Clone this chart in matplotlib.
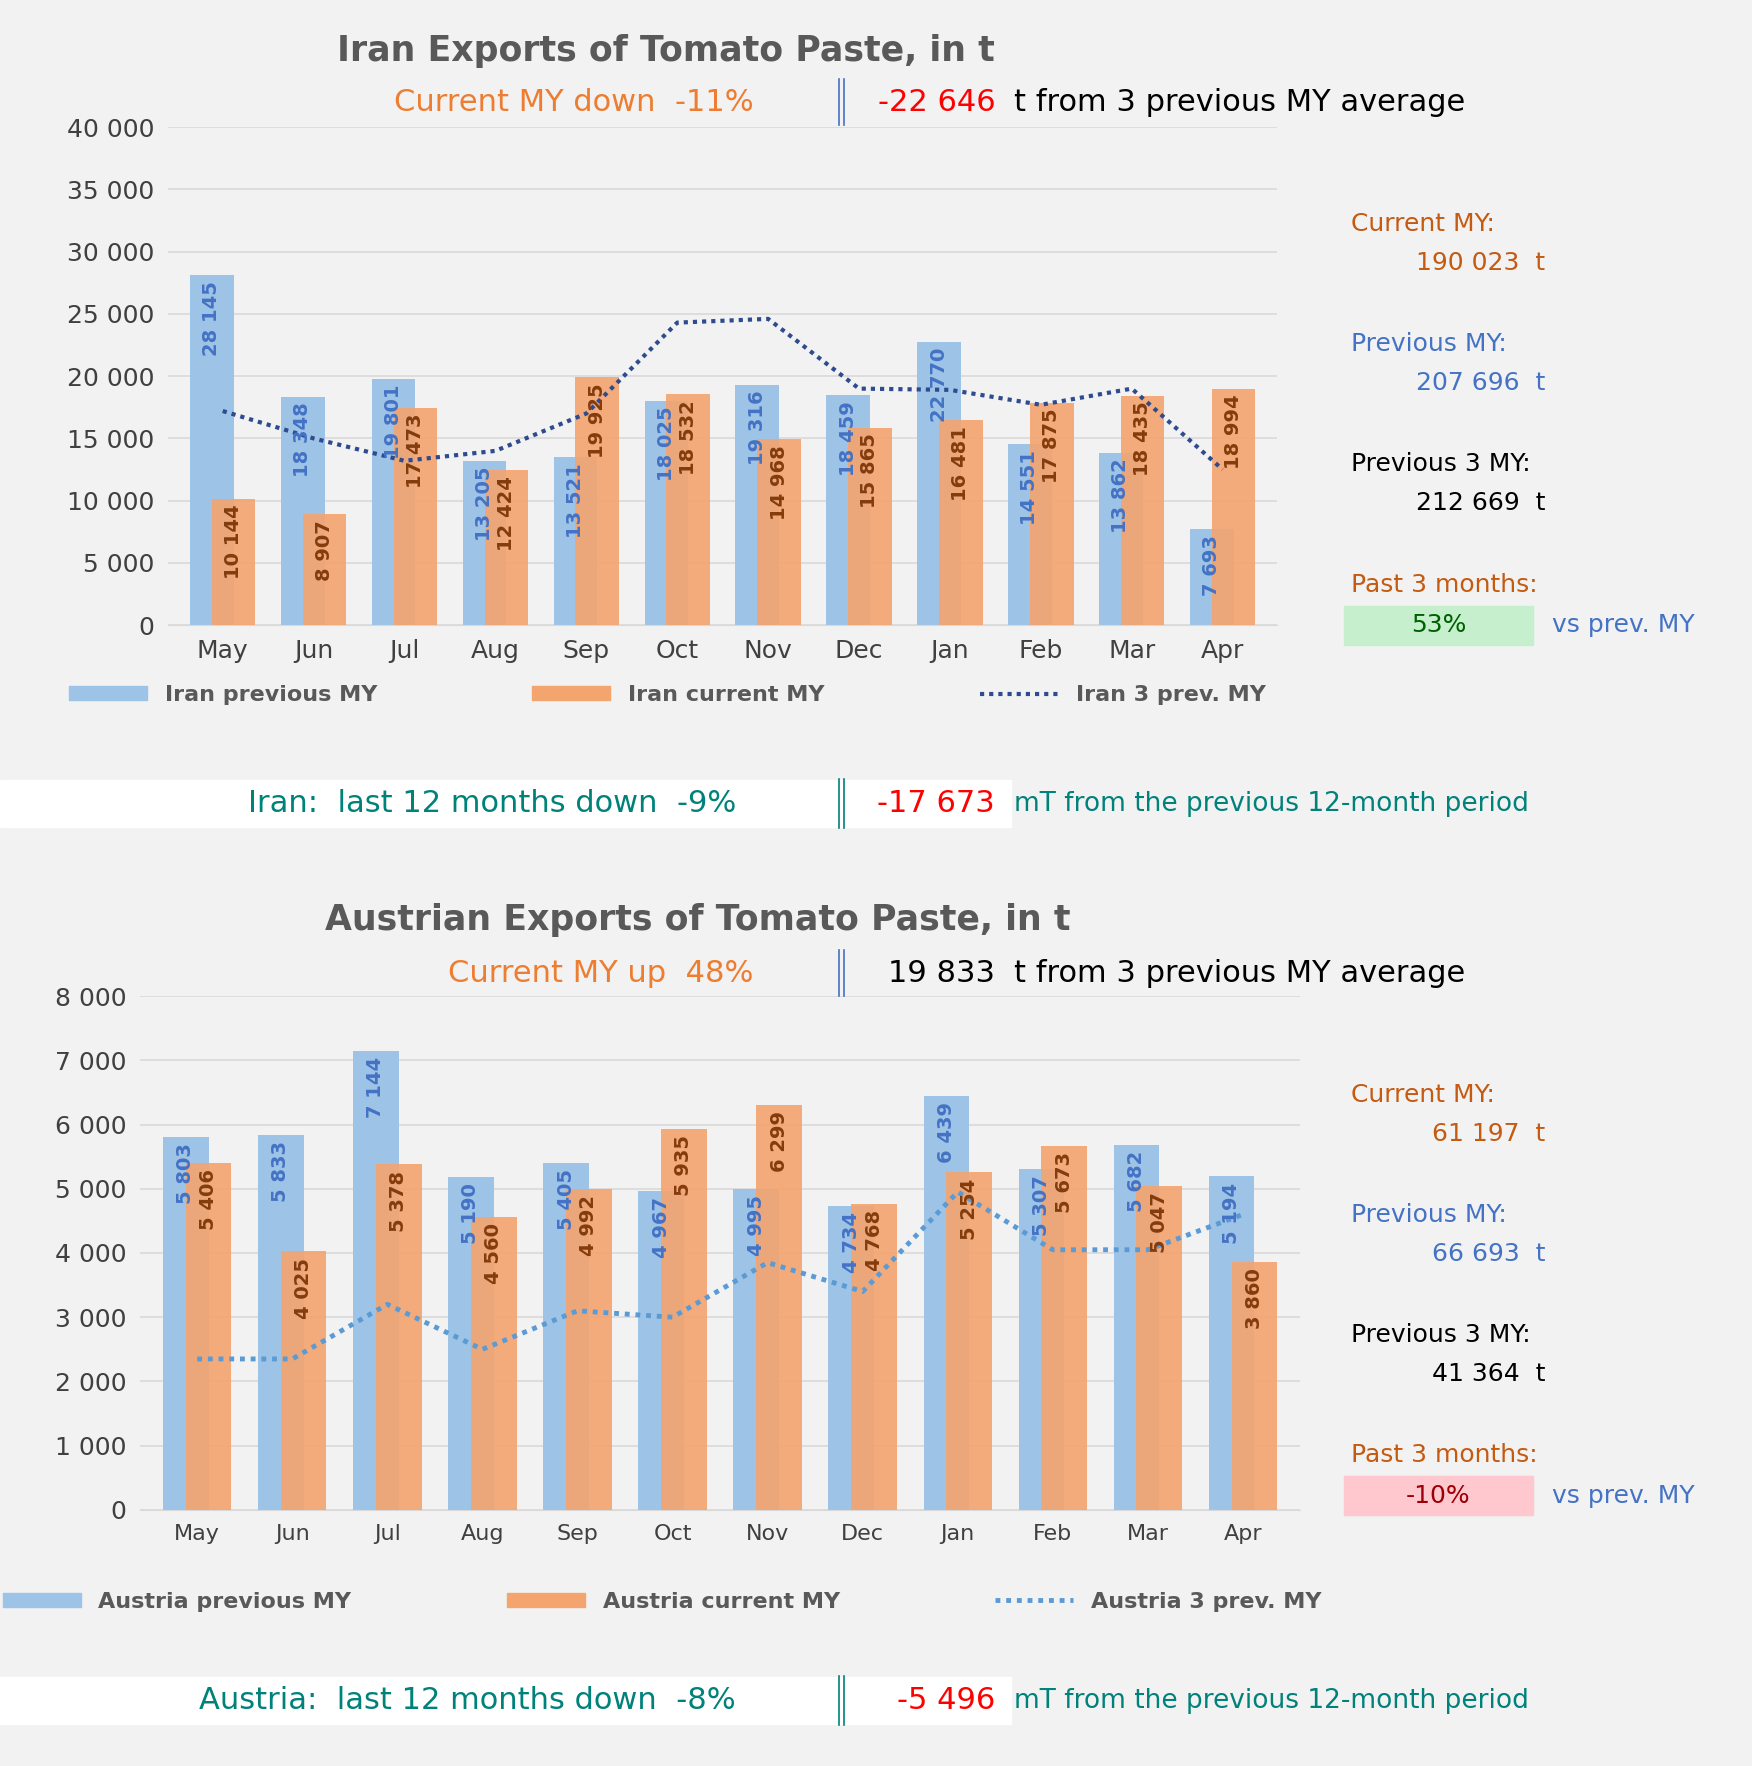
import matplotlib.pyplot as plt
import numpy as np
from matplotlib.patches import Rectangle

months = ["May", "Jun", "Jul", "Aug", "Sep", "Oct", "Nov", "Dec", "Jan", "Feb", "Mar", "Apr"]

iran_prev = [28145, 18348, 19801, 13205, 13521, 18025, 19316, 18459, 22770, 14551, 13862, 7693]
iran_cur = [10144, 8907, 17473, 12424, 19925, 18532, 14968, 15865, 16481, 17875, 18435, 18994]
iran_avg3 = [17200, 15000, 13200, 14000, 17000, 24300, 24600, 19000, 18900, 17700, 19000, 12500]

aut_prev = [5803, 5833, 7144, 5190, 5405, 4967, 4995, 4734, 6439, 5307, 5682, 5194]
aut_cur = [5406, 4025, 5378, 4560, 4992, 5935, 6299, 4768, 5254, 5673, 5047, 3860]
aut_avg3 = [2350, 2350, 3200, 2500, 3100, 3000, 3850, 3400, 4950, 4050, 4050, 4600]

BG = "#f2f2f2"
BLUE = "#9dc3e6"
ORANGE = "#f4a46e"
BLUE_TXT = "#4472c4"
BROWN_TXT = "#843c0c"
ORANGE_TXT = "#c55a11"
TEAL = "#00827a"


def fmt(v):
    return f"{v:,}".replace(",", " ")


fig = plt.figure(figsize=(17.52, 17.66), dpi=100, facecolor=BG)


def draw_chart(rect, prev, cur, avg, ymax, ystep, line_col, lw, names, tickfont):
    ax = fig.add_axes(rect, facecolor=BG)
    x = np.arange(len(months))
    w = 0.48
    ax.bar(x - 0.12, prev, w, color=BLUE, zorder=2)
    ax.bar(x + 0.12, cur, w, color=ORANGE, alpha=0.9, zorder=3)
    ax.plot(x, avg, color=line_col, lw=lw, ls=(0, (1, 1.2)), zorder=4)
    pad = ymax * 0.012
    for i in range(len(months)):
        ax.text(x[i] - 0.12, prev[i] - pad, fmt(prev[i]), rotation=90, ha="center", va="top",
                color=BLUE_TXT, fontsize=14, fontweight="bold", zorder=5)
        ax.text(x[i] + 0.12, cur[i] - pad, fmt(cur[i]), rotation=90, ha="center", va="top",
                color=BROWN_TXT, fontsize=14, fontweight="bold", zorder=5)
    ax.set_ylim(0, ymax)
    ax.set_xlim(-0.6, len(months) - 0.4)
    ticks = np.arange(0, ymax + 1, ystep)
    ax.set_yticks(ticks)
    ax.set_yticklabels([fmt(int(v)) for v in ticks], fontsize=18, color="#404040")
    ax.set_xticks(x)
    ax.set_xticklabels(months, fontsize=tickfont, color="#404040")
    ax.grid(axis="y", color="#d9d9d9", lw=1.2, zorder=0)
    for s in ax.spines.values():
        s.set_visible(False)
    ax.spines["bottom"].set_visible(True)
    ax.spines["bottom"].set_color("#d9d9d9")
    ax.tick_params(length=0, pad=10)
    h1 = Rectangle((0, 0), 1, 1, color=BLUE)
    h2 = Rectangle((0, 0), 1, 1, color=ORANGE)
    h3, = ax.plot([], [], color=line_col, lw=lw, ls=(0, (1, 1.2)))
    leg = ax.legend([h1, h2, h3], names, loc="upper center",
                    bbox_to_anchor=(0.45, -0.08 if tickfont > 16 else -0.12),
                    ncol=3, frameon=False, columnspacing=7, handlelength=3.5, handleheight=0.6,
                    prop={"size": 16, "weight": "bold"})
    for t in leg.get_texts():
        t.set_color("#595959")
    return ax


draw_chart([0.096, 0.646, 0.633, 0.282], iran_prev, iran_cur, iran_avg3, 40000, 5000,
           "#2f4b8f", 3, ["Iran previous MY", "Iran current MY", "Iran 3 prev. MY"], 18)
draw_chart([0.080, 0.145, 0.662, 0.291], aut_prev, aut_cur, aut_avg3, 8000, 1000,
           "#5b9bd5", 3.5, ["Austria previous MY", "Austria current MY", "Austria 3 prev. MY"], 16)


def header(y_title, title, y_sub, sub, num, num_col, title_x):
    fig.text(title_x, y_title, title, fontsize=25, fontweight="bold", color="#595959", ha="center", va="center")
    fig.text(0.43, y_sub, sub, fontsize=22, color="#ed7d31", ha="right", va="center")
    fig.add_artist(plt.Line2D([0.479, 0.479], [y_sub - 0.013, y_sub + 0.013], color=BLUE_TXT, lw=1.2))
    fig.add_artist(plt.Line2D([0.482, 0.482], [y_sub - 0.013, y_sub + 0.013], color=BLUE_TXT, lw=1.2))
    fig.text(0.568, y_sub, num, fontsize=22, color=num_col, ha="right", va="center")
    fig.text(0.579, y_sub, "t from 3 previous MY average", fontsize=22, color="black", ha="left", va="center")


header(0.971, "Iran Exports of Tomato Paste, in t", 0.942, "Current MY down  -11%", "-22 646", "red", 0.38)
header(0.479, "Austrian Exports of Tomato Paste, in t", 0.449, "Current MY up  48%", "19 833", "black", 0.398)


def side(y0, cur, prev, prev3, pct, pct_bg, pct_col):
    fig.text(0.771, y0, "Current MY:", fontsize=18, color=ORANGE_TXT, va="center")
    fig.text(0.882, y0 - 0.022, cur + "  t", fontsize=18, color=ORANGE_TXT, va="center", ha="right")
    fig.text(0.771, y0 - 0.068, "Previous MY:", fontsize=18, color=BLUE_TXT, va="center")
    fig.text(0.882, y0 - 0.090, prev + "  t", fontsize=18, color=BLUE_TXT, va="center", ha="right")
    fig.text(0.771, y0 - 0.136, "Previous 3 MY:", fontsize=18, color="black", va="center")
    fig.text(0.882, y0 - 0.158, prev3 + "  t", fontsize=18, color="black", va="center", ha="right")
    fig.text(0.771, y0 - 0.204, "Past 3 months:", fontsize=18, color=ORANGE_TXT, va="center")
    fig.add_artist(Rectangle((0.767, y0 - 0.238), 0.108, 0.022, color=pct_bg))
    fig.text(0.821, y0 - 0.227, pct, fontsize=18, color=pct_col, va="center", ha="center")
    fig.text(0.886, y0 - 0.227, "vs prev. MY", fontsize=18, color=BLUE_TXT, va="center")


side(0.873, "190 023", "207 696", "212 669", "53%", "#c6efce", "#006100")
side(0.380, "61 197", "66 693", "41 364", "-10%", "#ffc7ce", "#9c0006")


def footer(y, label, num):
    fig.add_artist(Rectangle((0.0, y - 0.0135), 0.577, 0.027, color="white"))
    fig.text(0.42, y, label, fontsize=22, color=TEAL, ha="right", va="center")
    fig.add_artist(plt.Line2D([0.479, 0.479], [y - 0.014, y + 0.014], color=TEAL, lw=1.2))
    fig.add_artist(plt.Line2D([0.482, 0.482], [y - 0.014, y + 0.014], color=TEAL, lw=1.2))
    fig.text(0.568, y, num, fontsize=22, color="red", ha="right", va="center")
    fig.text(0.579, y, "mT from the previous 12-month period", fontsize=19, color=TEAL, ha="left", va="center")


footer(0.545, "Iran:  last 12 months down  -9%", "-17 673")
footer(0.037, "Austria:  last 12 months down  -8%", "-5 496")

fig.savefig("out.png", dpi=100, facecolor=BG)
